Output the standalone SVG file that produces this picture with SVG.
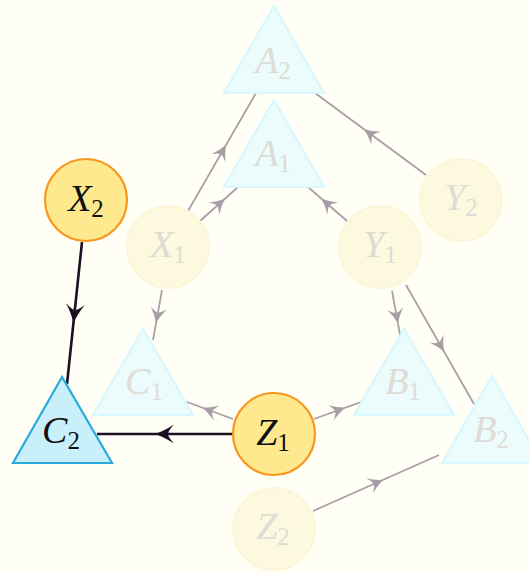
<svg xmlns="http://www.w3.org/2000/svg" width="529" height="574" viewBox="0 0 529 574">
<style>
.bg{fill:#fffff5}
.circ{fill:#fee98f;stroke:#f8961e;stroke-width:2.2}
.tri{fill:#c9f0fa;stroke:#29acd9;stroke-width:2.2;stroke-linejoin:miter}
.fcirc{fill:#fdf9de;stroke:#fcf6d8;stroke-width:2}
.ftri{fill:#ecfbfc;stroke:#d8f7fe;stroke-width:2.2;stroke-linejoin:miter}
.lbl{font-family:"Liberation Serif","DejaVu Serif",serif;font-size:38px;fill:#111;text-anchor:middle}
.lbl .v{font-style:italic}
.lbl .s{font-size:25px;font-style:normal}
.fl{fill:#dedcd5}
.edge{fill:none;stroke:#1c0f22;stroke-width:2.6;marker-mid:url(#arr)}
.fedge{fill:none;stroke:#3e2848;stroke-width:1.7;opacity:0.45;marker-mid:url(#farr)}
</style>
<defs>
<marker id="arr" viewBox="-12 -12 24 24" markerWidth="24" markerHeight="24" markerUnits="userSpaceOnUse" orient="auto" refX="0" refY="0">
<path d="M10,0 Q1,-3 -9,-9.5 Q-3,-3 -3,0 Q-3,3 -9,9.5 Q1,3 10,0 Z" fill="#1c0f22"/>
</marker>
<marker id="farr" viewBox="-12 -12 24 24" markerWidth="24" markerHeight="24" markerUnits="userSpaceOnUse" orient="auto" refX="0" refY="0">
<path d="M8,0 Q1,-2.5 -7,-8 Q-2.5,-2.5 -2.5,0 Q-2.5,2.5 -7,8 Q1,2.5 8,0 Z" fill="#3e2848"/>
</marker>
</defs>
<rect class="bg" x="0" y="0" width="529" height="574"/>

<g id="connectors">
<path class="fedge" d="M188,211 L222,152 L256,93"/>
<path class="fedge" d="M200,221 L219,204 L238,187"/>
<path class="fedge" d="M347,221 L327.5,204 L308,187"/>
<path class="fedge" d="M426,175 L370.5,134 L315,93"/>
<path class="fedge" d="M162,290 L157.5,315 L153,340"/>
<path class="fedge" d="M392,291 L396.5,315.5 L401,340"/>
<path class="fedge" d="M406,285 L440,344.5 L474,404"/>
<path class="fedge" d="M233,419 L210,410.5 L187,402"/>
<path class="fedge" d="M314,419 L337.5,410.5 L361,402"/>
<path class="fedge" d="M313,511 L376,483 L439,455"/>
<path class="edge" d="M82,242 L74.5,313 L67,384"/>
<path class="edge" d="M233,434 L165,434 L97,434"/>
</g>

<g id="A2">
<polygon class="ftri" points="274,6 224,93 324,93"/>
<text class="lbl" x="273" y="73"><tspan class="v fl">A</tspan><tspan class="s fl" dy="6">2</tspan></text>
</g>
<g id="A1">
<polygon class="ftri" points="274,100 224,187 324,187"/>
<text class="lbl" x="273" y="166"><tspan class="v fl">A</tspan><tspan class="s fl" dy="6">1</tspan></text>
</g>
<g id="X1">
<circle class="fcirc" cx="168" cy="247" r="41"/>
<text class="lbl" x="168" y="257"><tspan class="v fl">X</tspan><tspan class="s fl" dy="6">1</tspan></text>
</g>
<g id="Y1">
<circle class="fcirc" cx="380" cy="247" r="41"/>
<text class="lbl" x="380" y="257"><tspan class="v fl">Y</tspan><tspan class="s fl" dy="6">1</tspan></text>
</g>
<g id="Y2">
<circle class="fcirc" cx="461" cy="200" r="41"/>
<text class="lbl" x="461" y="210"><tspan class="v fl">Y</tspan><tspan class="s fl" dy="6">2</tspan></text>
</g>
<g id="C1">
<polygon class="ftri" points="143,329 93,415 193,415"/>
<text class="lbl" x="144" y="394"><tspan class="v fl">C</tspan><tspan class="s fl" dy="6">1</tspan></text>
</g>
<g id="B1">
<polygon class="ftri" points="404,329 354,415 454,415"/>
<text class="lbl" x="403" y="394"><tspan class="v fl">B</tspan><tspan class="s fl" dy="6">1</tspan></text>
</g>
<g id="B2">
<polygon class="ftri" points="492,376 442,463 542,463"/>
<text class="lbl" x="491" y="442"><tspan class="v fl">B</tspan><tspan class="s fl" dy="6">2</tspan></text>
</g>
<g id="Z2">
<circle class="fcirc" cx="274" cy="529" r="41"/>
<text class="lbl" x="273" y="539"><tspan class="v fl">Z</tspan><tspan class="s fl" dy="6">2</tspan></text>
</g>

<g id="X2">
<circle class="circ" cx="86" cy="200" r="41"/>
<text class="lbl" x="86" y="211"><tspan class="v">X</tspan><tspan class="s" dy="6">2</tspan></text>
</g>
<g id="C2">
<polygon class="tri" points="62,377 13,463 112,463"/>
<text class="lbl" x="61" y="443"><tspan class="v">C</tspan><tspan class="s" dy="6">2</tspan></text>
</g>
<g id="Z1">
<circle class="circ" cx="274" cy="434" r="41"/>
<text class="lbl" x="273" y="445"><tspan class="v">Z</tspan><tspan class="s" dy="6">1</tspan></text>
</g>
</svg>
